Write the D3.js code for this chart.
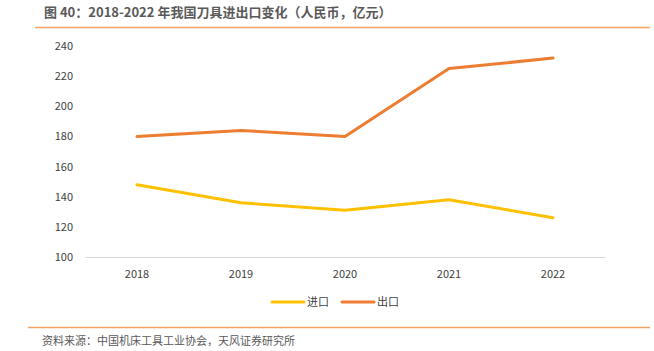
<!DOCTYPE html>
<html><head><meta charset="utf-8">
<script src="https://cdn.jsdelivr.net/npm/d3@7/dist/d3.min.js"></script>
<style>body{margin:0;background:#fff}svg{display:block}</style>
</head><body>
<script>
const years = ["2018","2019","2020","2021","2022"];
const importVals = [148, 136, 131, 138, 126];
const exportVals = [180, 184, 180, 225, 232];
const yTicks = [100,120,140,160,180,200,220,240];
const seriesNames = ["进口","出口"];
const colors = ["#FFC000","#ED7D31"];

const W=654,H=351;
const svg=d3.select("body").append("svg").attr("width",W).attr("height",H);
const font="'Noto Sans CJK SC','Noto Sans',sans-serif";

svg.append("text").attr("x",44).attr("y",17).attr("font-family",font).attr("font-size",13).attr("font-weight","bold").attr("fill","#595959").text("图 40：2018-2022 年我国刀具进出口变化（人民币，亿元）");
svg.append("line").attr("x1",35).attr("x2",650).attr("y1",27.5).attr("y2",27.5).attr("stroke","#F4A460").attr("stroke-width",1.5);
svg.append("line").attr("x1",28).attr("x2",650).attr("y1",327.5).attr("y2",327.5).attr("stroke","#F4A460").attr("stroke-width",1.5);
svg.append("text").attr("x",42).attr("y",345).attr("font-family",font).attr("font-size",11).attr("fill","#595959").text("资料来源：中国机床工具工业协会，天风证券研究所");

const x=d3.scaleBand().domain(years).range([85,605]);
const y=d3.scaleLinear().domain([100,240]).range([257,46]);

const ya=svg.append("g").attr("transform","translate(85,0)").call(d3.axisLeft(y).tickValues(yTicks).tickSize(0).tickPadding(12));
ya.select(".domain").remove();
ya.selectAll("text").attr("font-family",font).attr("font-size",11).attr("fill","#404040");

const xa=svg.append("g").attr("transform","translate(0,257)").call(d3.axisBottom(x).tickSize(0).tickPadding(13));
xa.select(".domain").attr("stroke","#D9D9D9");
xa.selectAll("text").attr("font-family",font).attr("font-size",11).attr("fill","#404040");

const line=d3.line().x((d,i)=>x(years[i])+x.bandwidth()/2).y(d=>y(d));
[importVals,exportVals].forEach((vals,k)=>{
  svg.append("path").datum(vals).attr("d",line).attr("fill","none").attr("stroke",colors[k]).attr("stroke-width",3).attr("stroke-linecap","round").attr("stroke-linejoin","round");
});

const lg=svg.append("g");
const lx=[272,342];
seriesNames.forEach((n,k)=>{
  lg.append("line").attr("x1",lx[k]).attr("x2",lx[k]+32).attr("y1",302).attr("y2",302).attr("stroke",colors[k]).attr("stroke-width",3).attr("stroke-linecap","round");
  lg.append("text").attr("x",lx[k]+35).attr("y",306).attr("font-family",font).attr("font-size",11).attr("fill","#404040").text(n);
});
</script>
</body></html>
